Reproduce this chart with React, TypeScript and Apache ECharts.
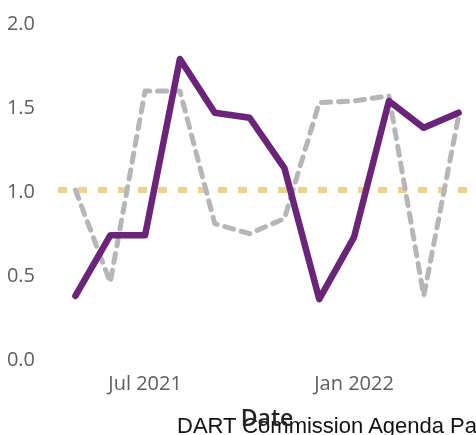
import React, { useEffect, useRef } from "react";
import * as echarts from "echarts";

const months = [
  "May 2021", "Jun 2021", "Jul 2021", "Aug 2021", "Sep 2021", "Oct 2021",
  "Nov 2021", "Dec 2021", "Jan 2022", "Feb 2022", "Mar 2022", "Apr 2022",
];
const shownLabels = ["Jul 2021", "Jan 2022"];
const purpleValues = [0.37, 0.73, 0.73, 1.78, 1.46, 1.43, 1.13, 0.35, 0.72, 1.53, 1.37, 1.46];
const grayValues = [1.0, 0.45, 1.59, 1.59, 0.8, 0.74, 0.83, 1.52, 1.53, 1.56, 0.37, 1.44];
const targetValue = 1.0;
const yTicks = [0, 0.5, 1, 1.5, 2];

export default function App() {
  const ref = useRef<HTMLDivElement>(null);
  useEffect(() => {
    if (!ref.current) return;
    const chart = echarts.init(ref.current, null, { renderer: "svg" });
    const labelFont = "'Open Sans', 'Noto Sans', sans-serif";
    chart.setOption({
      animation: false,
      grid: {
        left: 58,
        right: 0,
        top: 22,
        bottom: 77,
        containLabel: false,
        outerBoundsMode: "none",
      },
      xAxis: {
        type: "category",
        data: months,
        boundaryGap: true,
        axisLine: { show: false },
        axisTick: { show: false },
        splitLine: { show: false },
        axisLabel: {
          interval: 0,
          color: "#605E5C",
          fontSize: 20,
          fontFamily: labelFont,
          margin: 14,
          formatter: (v: string) => (shownLabels.includes(v) ? v : ""),
        },
        name: "Date",
        nameLocation: "middle",
        nameGap: 47,
        nameTextStyle: {
          color: "#252423",
          fontSize: 23,
          fontWeight: 600,
          fontFamily: labelFont,
        },
      },
      yAxis: {
        type: "value",
        min: yTicks[0],
        max: yTicks[yTicks.length - 1],
        interval: 0.5,
        axisLine: { show: false },
        axisTick: { show: false },
        splitLine: { show: false },
        axisLabel: {
          color: "#605E5C",
          fontSize: 20,
          fontFamily: labelFont,
          margin: 23,
          formatter: (v: number) => v.toFixed(1),
        },
      },
      series: [
        {
          type: "line",
          data: grayValues,
          symbol: "none",
          lineStyle: { color: "#B5B5BA", width: 5, type: [9, 8], cap: "round", join: "round" },
          z: 2,
          markLine: {
            silent: true,
            symbol: ["none", "none"],
            label: { show: false },
            lineStyle: { color: "#EAD38F", width: 6, type: [9, 11], cap: "butt" },
            data: [{ yAxis: targetValue }],
            z: 1,
          },
        },
        {
          type: "line",
          data: purpleValues,
          symbol: "none",
          lineStyle: { color: "#6B2479", width: 6.5, cap: "round", join: "round" },
          z: 3,
        },
      ],
      graphic: [
        {
          type: "text",
          left: 177,
          top: 414,
          style: {
            text: "DART Commission Agenda Packet",
            fill: "#111111",
            fontSize: 22,
            fontFamily: "'Liberation Sans', Arial, sans-serif",
          },
        },
      ],
    });
    return () => chart.dispose();
  }, []);
  return (
    <div
      ref={ref}
      style={{ position: "fixed", left: 0, top: 0, width: 476, height: 435 }}
    />
  );
}
